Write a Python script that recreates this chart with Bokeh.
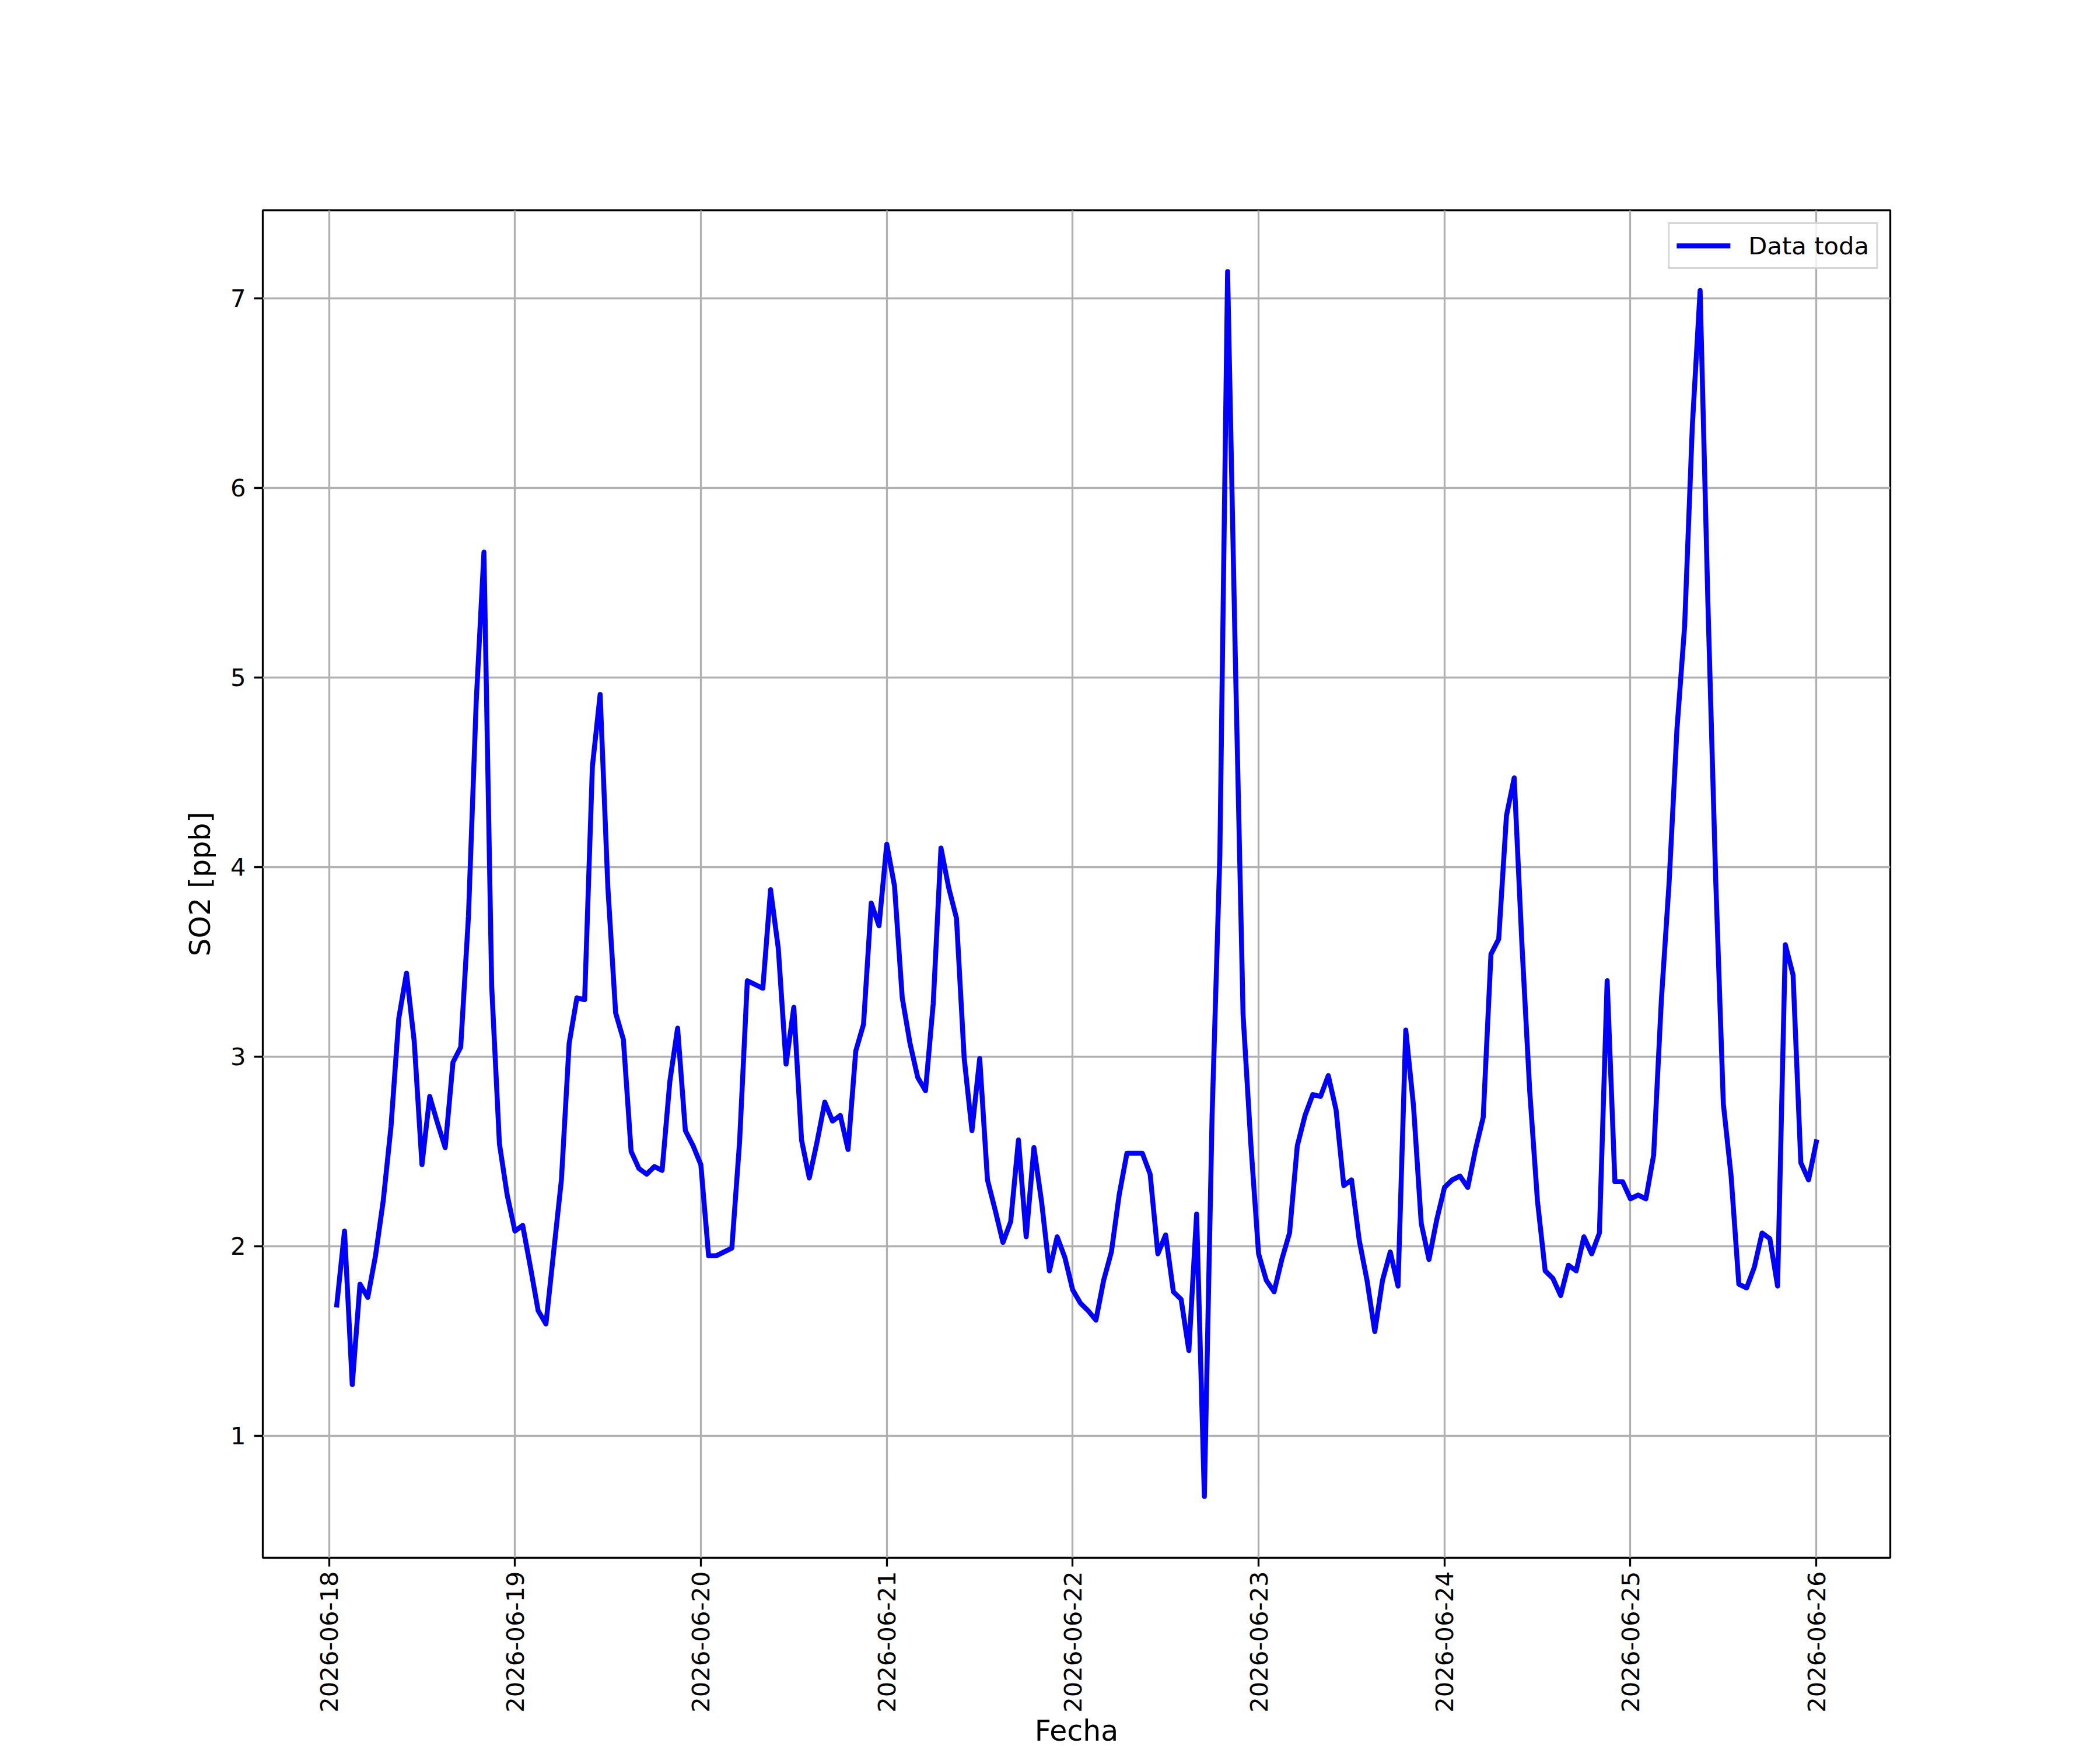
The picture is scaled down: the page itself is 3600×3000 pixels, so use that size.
import numpy as np
import pandas as pd
from math import pi
from bokeh.plotting import figure
from bokeh.models import (ColumnDataSource, Range1d, FixedTicker, DatetimeTickFormatter,
                          Legend, LegendItem)
from bokeh.embed import file_html
from bokeh.resources import INLINE

# ---------------- data ----------------
inicio = "2026-06-18 01:00"
so2_0618 = [1.69, 2.08, 1.27, 1.80, 1.73, 1.95, 2.24, 2.63, 3.20, 3.44, 3.08, 2.43,
            2.79, 2.65, 2.52, 2.97, 3.05, 3.74, 4.87, 5.66, 3.37, 2.54, 2.27]
so2_0619 = [2.08, 2.11, 1.89, 1.66, 1.59, 1.97, 2.35, 3.07, 3.31, 3.30, 4.53, 4.91,
            3.89, 3.23, 3.09, 2.50, 2.41, 2.38, 2.42, 2.40, 2.87, 3.15, 2.61, 2.53]
so2_0620 = [2.43, 1.95, 1.95, 1.97, 1.99, 2.55, 3.40, 3.38, 3.36, 3.88, 3.57, 2.96,
            3.26, 2.56, 2.36, 2.55, 2.76, 2.66, 2.69, 2.51, 3.03, 3.17, 3.81, 3.69]
so2_0621 = [4.12, 3.90, 3.31, 3.07, 2.89, 2.82, 3.28, 4.10, 3.89, 3.73, 2.99, 2.61,
            2.99, 2.35, 2.19, 2.02, 2.13, 2.56, 2.05, 2.52, 2.23, 1.87, 2.05, 1.94]
so2_0622 = [1.77, 1.70, 1.66, 1.61, 1.82, 1.97, 2.27, 2.49, 2.49, 2.49, 2.38, 1.96,
            2.06, 1.76, 1.72, 1.45, 2.17, 0.68, 2.69, 4.06, 7.14, 5.10, 3.22, 2.54]
so2_0623 = [1.96, 1.82, 1.76, 1.93, 2.07, 2.53, 2.69, 2.80, 2.79, 2.90, 2.72, 2.32,
            2.35, 2.03, 1.82, 1.55, 1.82, 1.97, 1.79, 3.14, 2.74, 2.12, 1.93, 2.14]
so2_0624 = [2.31, 2.35, 2.37, 2.31, 2.51, 2.68, 3.54, 3.62, 4.27, 4.47, 3.59, 2.82,
            2.24, 1.87, 1.83, 1.74, 1.90, 1.87, 2.05, 1.96, 2.07, 3.40, 2.34, 2.34]
so2_0625 = [2.25, 2.27, 2.25, 2.48, 3.30, 3.92, 4.72, 5.27, 6.33, 7.04, 5.40, 3.95,
            2.75, 2.37, 1.80, 1.78, 1.89, 2.07, 2.04, 1.79, 3.59, 3.43, 2.44, 2.35]
so2_0626 = [2.55]

so2 = (so2_0618 + so2_0619 + so2_0620 + so2_0621 + so2_0622 +
       so2_0623 + so2_0624 + so2_0625 + so2_0626)
fechas = pd.date_range(inicio, periods=len(so2), freq="h")

dias = ["2026-06-18", "2026-06-19", "2026-06-20", "2026-06-21", "2026-06-22",
        "2026-06-23", "2026-06-24", "2026-06-25", "2026-06-26"]
y_ticks = [1, 2, 3, 4, 5, 6, 7]

serie_label = "Data toda"
x_label = "Fecha"
y_label = "SO2 [ppb]"

# ---------------- layout ----------------
TOTAL_W, TOTAL_H = 3584, 2984
FL, FT, FW, FH = 450, 360, 2790, 2310

span = fechas[-1] - fechas[0]
x_start = (fechas[0] - 0.05 * span).to_pydatetime()
x_end = (fechas[-1] + 0.05 * span).to_pydatetime()
ymin, ymax = min(so2), max(so2)
yspan = ymax - ymin
y_start = ymin - 0.05 * yspan
y_end = ymax + 0.05 * yspan

src = ColumnDataSource(dict(x=fechas, y=so2))

p = figure(x_axis_type="datetime",
           frame_width=FW, frame_height=FH,
           min_border_left=FL, min_border_top=FT,
           min_border_right=TOTAL_W - FL - FW, min_border_bottom=TOTAL_H - FT - FH,
           x_range=Range1d(x_start, x_end), y_range=Range1d(y_start, y_end),
           output_backend="svg", toolbar_location=None)

p.background_fill_color = "white"
p.border_fill_color = "white"
p.outline_line_color = "black"
p.outline_line_width = 3.3

for g in (p.xgrid[0], p.ygrid[0]):
    g.grid_line_color = "#b0b0b0"
    g.grid_line_width = 3.3

FONT = "DejaVu Sans"
TICK_FS = "41.7px"
LABEL_FS = "49px"

for ax in (p.xaxis[0], p.yaxis[0]):
    ax.axis_line_color = None
    ax.major_tick_line_color = "black"
    ax.major_tick_line_width = 3.3
    ax.major_tick_out = 15
    ax.major_tick_in = 0
    ax.minor_tick_line_color = None
    ax.major_label_text_font = FONT
    ax.major_label_text_font_size = TICK_FS
    ax.major_label_text_color = "black"
    ax.axis_label_text_font = FONT
    ax.axis_label_text_font_size = LABEL_FS
    ax.axis_label_text_font_style = "normal"
    ax.axis_label_text_color = "black"

xa = p.xaxis[0]
xa.ticker = FixedTicker(ticks=[pd.Timestamp(d).value / 1e6 for d in dias])
fmt = "%Y-%m-%d"
xa.formatter = DatetimeTickFormatter(days=fmt, months=fmt, hours=fmt, years=fmt,
                                     minutes=fmt, hourmin=fmt, seconds=fmt,
                                     minsec=fmt, milliseconds=fmt, microseconds=fmt)
xa.major_label_orientation = pi / 2
xa.major_label_standoff = 8
xa.axis_label = x_label
xa.axis_label_standoff = 0

ya = p.yaxis[0]
ya.ticker = FixedTicker(ticks=y_ticks)
ya.major_label_standoff = 14
ya.axis_label = y_label
ya.axis_label_standoff = 20

r = p.line("x", "y", source=src, line_color="#0000ff", line_width=8.5,
           line_join="round", line_cap="square")

legend = Legend(items=[LegendItem(label=serie_label, renderers=[r])],
                location="top_right", margin=21, padding=12, spacing=0,
                glyph_width=92, glyph_height=50, label_standoff=31,
                label_text_font=FONT, label_text_font_size=TICK_FS,
                label_text_color="black",
                border_line_color="#cccccc", border_line_width=3.3,
                border_line_alpha=0.8,
                background_fill_color="white", background_fill_alpha=0.8)
p.add_layout(legend)

open("out.html", "w").write(file_html(p, INLINE))
